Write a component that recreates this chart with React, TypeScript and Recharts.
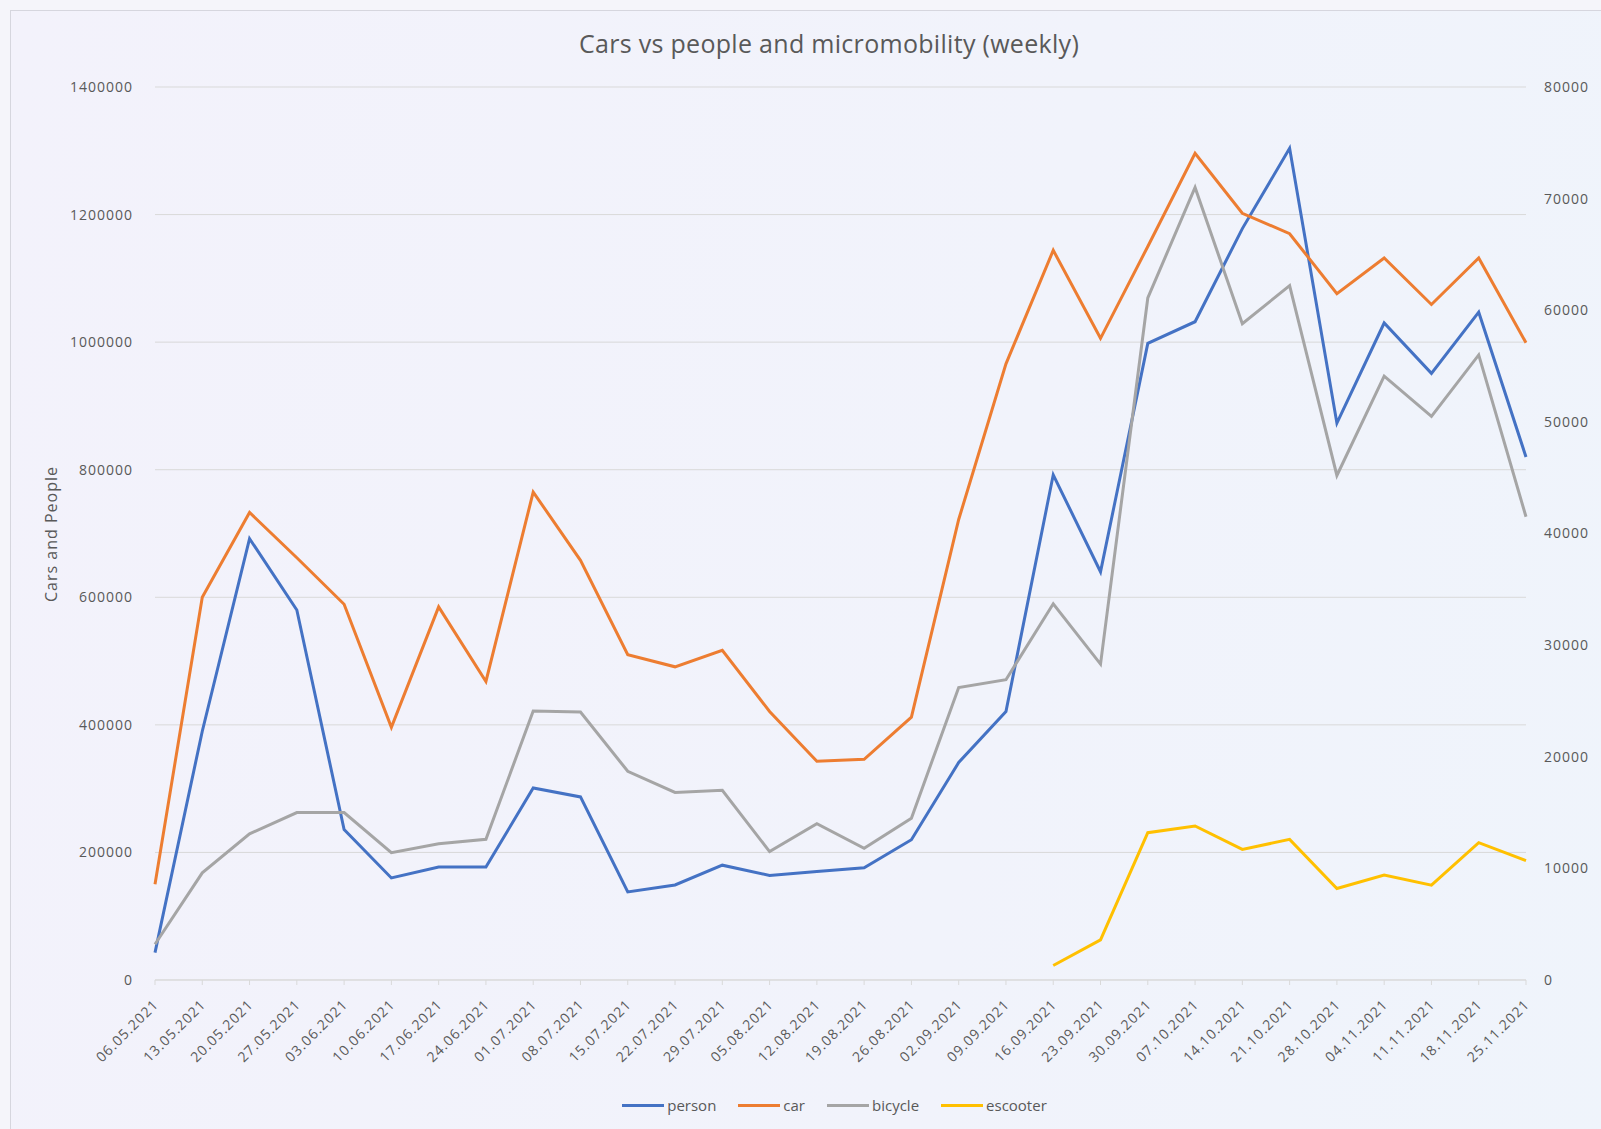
import React from "react";
import { LineChart, Line, XAxis, YAxis, CartesianGrid, Legend } from "recharts";

const weeks = [
  "06.05.2021", "13.05.2021", "20.05.2021", "27.05.2021", "03.06.2021",
  "10.06.2021", "17.06.2021", "24.06.2021", "01.07.2021", "08.07.2021",
  "15.07.2021", "22.07.2021", "29.07.2021", "05.08.2021", "12.08.2021",
  "19.08.2021", "26.08.2021", "02.09.2021", "09.09.2021", "16.09.2021",
  "23.09.2021", "30.09.2021", "07.10.2021", "14.10.2021", "21.10.2021",
  "28.10.2021", "04.11.2021", "11.11.2021", "18.11.2021", "25.11.2021",
];

// left axis
const person = [
  43000, 390000, 692000, 580000, 236000, 160000, 177000, 177000, 301000, 287000,
  138000, 149000, 180000, 164000, 170000, 176000, 220000, 341000, 421000, 792000,
  640000, 998000, 1032000, 1178000, 1304000, 873000, 1030000, 951000, 1047000, 820000,
];
const car = [
  150000, 600000, 733000, 662000, 589000, 396000, 585000, 468000, 765000, 658000,
  510000, 491000, 517000, 421000, 343000, 346000, 412000, 722000, 966000, 1144000,
  1006000, 1150000, 1296000, 1202000, 1170000, 1076000, 1132000, 1059000, 1132000, 999000,
];

// right axis
const bicycle = [
  3200, 9600, 13100, 15000, 15000, 11400, 12200, 12600, 24100, 24000,
  18700, 16800, 17000, 11500, 14000, 11800, 14500, 26200, 26900, 33700,
  28300, 61100, 71000, 58800, 62200, 45200, 54100, 50500, 56000, 41500,
];
const escooter = [
  null, null, null, null, null, null, null, null, null, null,
  null, null, null, null, null, null, null, null, null, 1300,
  3600, 13200, 13800, 11700, 12600, 8200, 9400, 8500, 12300, 10700,
];

const leftTicks = [0, 200000, 400000, 600000, 800000, 1000000, 1200000, 1400000];
const rightTicks = [0, 10000, 20000, 30000, 40000, 50000, 60000, 70000, 80000];

const series = [
  { key: "person", color: "#4472C4", axis: "left" },
  { key: "car", color: "#ED7D31", axis: "left" },
  { key: "bicycle", color: "#A5A5A5", axis: "right" },
  { key: "escooter", color: "#FFC000", axis: "right" },
];

const data = weeks.map((week, i) => ({
  week,
  person: person[i],
  car: car[i],
  bicycle: bicycle[i],
  escooter: escooter[i],
}));

const font = "'Open Sans', 'Liberation Sans', sans-serif";
const textColor = "#595959";

const DateTick = (props: any) => {
  const { x, y, payload } = props;
  return (
    <g transform={`translate(${x + 1},${y + 15})`}>
      <text
        x={0}
        y={0}
        dy="0.35em"
        textAnchor="end"
        transform="rotate(-45)"
        fill={textColor}
        fontSize={14}
        fontFamily={font}
        letterSpacing={1}
      >
        {payload.value}
      </text>
    </g>
  );
};

// legend keeps the series order (recharts would sort it by name)
const LegendRow = () => (
  <div
    style={{
      display: "flex",
      justifyContent: "center",
      alignItems: "center",
      height: 20,
      fontFamily: font,
      fontSize: 15,
      color: textColor,
      gap: 22,
    }}
  >
    {series.map((s) => (
      <span key={s.key} style={{ display: "inline-flex", alignItems: "center" }}>
        <span style={{ display: "inline-block", width: 42, height: 3, background: s.color, marginRight: 3 }} />
        {s.key}
      </span>
    ))}
  </div>
);

export default function App() {
  return (
    <div
      style={{
        position: "absolute",
        left: 0,
        top: 0,
        width: 1601,
        height: 1129,
        overflow: "hidden",
        background: "#f5f5fa",
      }}
    >
      <div
        style={{
          position: "absolute",
          left: 10,
          top: 10,
          width: 1620,
          height: 1140,
          border: "1px solid #d6d6de",
          background: "linear-gradient(100deg, #f3f2fb 0%, #f1f3fb 60%, #eff4fb 100%)",
        }}
      />
      <div
        style={{
          position: "absolute",
          left: 0,
          top: 26,
          width: 1658,
          textAlign: "center",
          fontFamily: font,
          fontSize: 25,
          letterSpacing: 0.3,
          color: textColor,
        }}
      >
        Cars vs people and micromobility (weekly)
      </div>
      <div
        style={{
          position: "absolute",
          left: 51,
          top: 534,
          transform: "translate(-50%, -50%) rotate(-90deg)",
          whiteSpace: "nowrap",
          fontFamily: font,
          fontSize: 16,
          letterSpacing: 1,
          color: textColor,
        }}
      >
        Cars and People
      </div>
      <div style={{ position: "absolute", left: 0, top: 0 }}>
        <LineChart
          width={1601}
          height={1129}
          data={data}
          margin={{ top: 87, right: 5, left: 20, bottom: 34 }}
        >
          <CartesianGrid vertical={false} stroke="#d9d9d9" yAxisId="left" />
          <XAxis
            dataKey="week"
            interval={0}
            height={95}
            tick={<DateTick />}
            tickSize={5}
            axisLine={{ stroke: "#d9d9d9" }}
            tickLine={{ stroke: "#d9d9d9" }}
          />
          <YAxis
            yAxisId="left"
            orientation="left"
            width={135}
            domain={[0, 1400000]}
            ticks={leftTicks}
            axisLine={false}
            tickLine={false}
            tickMargin={16}
            tick={{ fill: textColor, fontSize: 14, fontFamily: font, letterSpacing: 1 }}
          />
          <YAxis
            yAxisId="right"
            orientation="right"
            width={70}
            domain={[0, 80000]}
            ticks={rightTicks}
            axisLine={false}
            tickLine={false}
            tickMargin={12}
            tick={{ fill: textColor, fontSize: 14, fontFamily: font, letterSpacing: 1 }}
          />
          <Legend
            verticalAlign="bottom"
            content={<LegendRow />}
            wrapperStyle={{ left: 34, width: 1601, bottom: 14 }}
          />
          {series.map((s) => (
            <Line
              key={s.key}
              yAxisId={s.axis}
              type="linear"
              dataKey={s.key}
              name={s.key}
              stroke={s.color}
              strokeWidth={3}
              dot={false}
              activeDot={false}
              isAnimationActive={false}
            />
          ))}
        </LineChart>
      </div>
    </div>
  );
}
